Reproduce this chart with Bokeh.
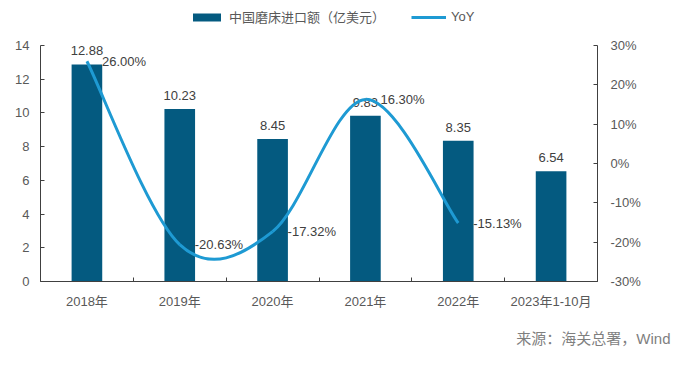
from bokeh.plotting import figure
from bokeh.layouts import column
from bokeh.models import (Range1d, LinearAxis, FixedTicker, PrintfTickFormatter,
                          Legend, LegendItem, Label)
from bokeh.core.properties import value
from bokeh.embed import file_html
from bokeh.resources import INLINE

categories = ["2018年", "2019年", "2020年", "2021年", "2022年", "2023年1-10月"]
imports = [12.88, 10.23, 8.45, 9.83, 8.35, 6.54]
yoy = [26.00, -20.63, -17.32, 16.30, -15.13]
left_ticks = [0, 2, 4, 6, 8, 10, 12, 14]
right_ticks = [-30, -20, -10, 0, 10, 20, 30]
series_names = ["中国磨床进口额（亿美元）", "YoY"]
source_text = "来源：海关总署，Wind"

BAR = "#045A80"
LINE = "#1E9AD3"
TXT = "#404040"
AX = "#595959"
FONT = "Liberation Sans, Noto Sans CJK SC"
W = 681

idx = list(range(len(categories)))
xs = idx[:len(yoy)]


def blank_fig(h, xr=(0, 1)):
    f = figure(width=W, height=h, output_backend="svg", toolbar_location=None,
               x_range=Range1d(*xr), y_range=Range1d(-100, 100),
               min_border=0, x_axis_location=None, y_axis_location=None)
    f.grid.visible = False
    f.outline_line_color = None
    f.frame_align = False
    return f


# ---- legend strip (series drawn out of view; only the legend shows) ----
top = blank_fig(30, xr=(-100, -99))
leg_bar = top.vbar(x=idx, top=imports, width=0.33, fill_color=BAR, line_color=None)
leg_line = top.line(x=xs, y=yoy, line_color=LINE, line_width=3)
legend = Legend(items=[LegendItem(label=series_names[0], renderers=[leg_bar]),
                       LegendItem(label=series_names[1], renderers=[leg_line])],
                location=(189, 4), orientation="horizontal",
                glyph_width=35, glyph_height=10, label_standoff=5, spacing=26,
                padding=0, margin=0, border_line_color=None, background_fill_alpha=0,
                label_text_font=FONT, label_text_font_size="13px", label_text_color=AX)
top.add_layout(legend, "center")

# ---- main chart ----
p = figure(width=W, height=295, output_backend="svg", toolbar_location=None,
           x_range=Range1d(-0.5, len(categories) - 0.5), y_range=Range1d(0, 14),
           min_border_left=40, min_border_right=84, min_border_top=15, min_border_bottom=44,
           x_axis_location=None, y_axis_location=None)
p.grid.visible = False
p.outline_line_color = None
p.frame_align = False
p.extra_y_ranges = {"yoy": Range1d(-30, 30)}

xaxis = LinearAxis(ticker=FixedTicker(ticks=idx, minor_ticks=[i - 0.5 for i in range(len(categories) + 1)]),
                   major_label_overrides={i: c for i, c in zip(idx, categories)})
xaxis.major_tick_line_color = None
xaxis.minor_tick_in = 4
xaxis.minor_tick_out = 0
xaxis.minor_tick_line_color = TXT
xaxis.axis_line_color = TXT
xaxis.major_label_standoff = 6
xaxis.major_label_text_font = FONT
xaxis.major_label_text_font_size = "13px"
xaxis.major_label_text_color = AX
p.add_layout(xaxis, "below")

laxis = LinearAxis(ticker=FixedTicker(ticks=left_ticks))
raxis = LinearAxis(y_range_name="yoy", ticker=FixedTicker(ticks=right_ticks),
                   formatter=PrintfTickFormatter(format="%d%%"))
for ax, so in ((laxis, 11), (raxis, 13)):
    ax.major_tick_in = 4
    ax.major_tick_out = 0
    ax.minor_tick_line_color = None
    ax.major_tick_line_color = TXT
    ax.axis_line_color = TXT
    ax.major_label_standoff = so
    ax.major_label_text_font = FONT
    ax.major_label_text_font_size = "13px"
    ax.major_label_text_color = AX
p.add_layout(laxis, "left")
p.add_layout(raxis, "right")

p.vbar(x=idx, top=imports, width=0.33, fill_color=BAR, line_color=None)
p.text(x=idx, y=imports, text=["%.2f" % v for v in imports], text_align="center",
       text_baseline="bottom", y_offset=-9, text_font=value(FONT),
       text_font_size="13px", text_color=TXT)

# smoothed YoY line (Catmull-Rom bezier segments through the data points)
n = len(yoy)
x0, y0, x1, y1, cx0, cy0, cx1, cy1 = ([] for _ in range(8))
for i in range(n - 1):
    pm = i - 1 if i > 0 else i
    pp = i + 2 if i + 2 < n else i + 1
    m0x = (xs[i + 1] - xs[pm]) / 2.0
    m0y = (yoy[i + 1] - yoy[pm]) / 2.0
    m1x = (xs[pp] - xs[i]) / 2.0
    m1y = (yoy[pp] - yoy[i]) / 2.0
    x0.append(xs[i]); y0.append(yoy[i])
    x1.append(xs[i + 1]); y1.append(yoy[i + 1])
    cx0.append(xs[i] + m0x / 3); cy0.append(yoy[i] + m0y / 3)
    cx1.append(xs[i + 1] - m1x / 3); cy1.append(yoy[i + 1] - m1y / 3)
p.bezier(x0=x0, y0=y0, x1=x1, y1=y1, cx0=cx0, cy0=cy0, cx1=cx1, cy1=cy1,
         y_range_name="yoy", line_color=LINE, line_width=3)

p.text(x=xs, y=yoy, text=["%.2f%%" % v for v in yoy], y_range_name="yoy",
       text_align="left", text_baseline="middle", x_offset=15,
       text_font=value(FONT), text_font_size="13px", text_color=TXT)

# ---- source strip ----
bot = blank_fig(29)
bot.add_layout(Label(x=670, y=16, x_units="screen", y_units="screen", text=source_text,
                     text_align="right", text_baseline="middle", text_font=FONT,
                     text_font_size="15px", text_color="#7F7F7F"))

layout = column(top, p, bot, spacing=0)
open("out.html", "w").write(file_html(layout, INLINE))
